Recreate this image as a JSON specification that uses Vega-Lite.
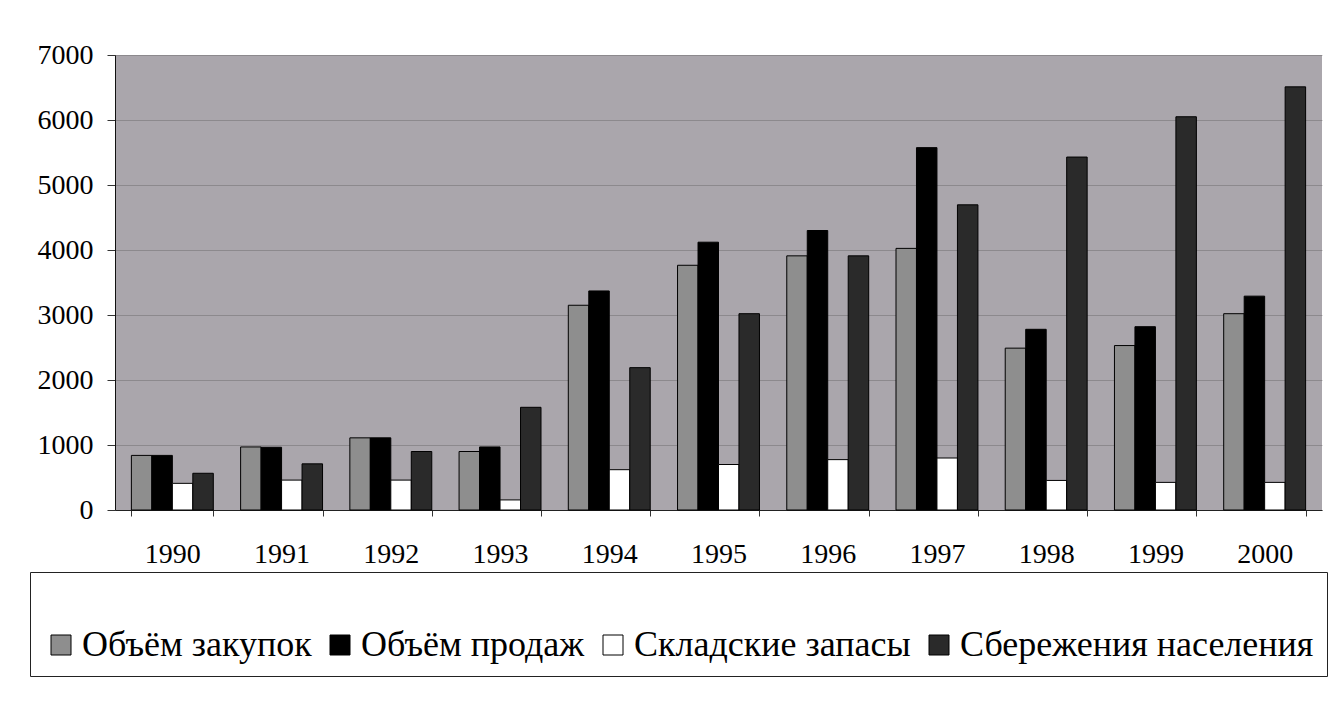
{
  "$schema": "https://vega.github.io/schema/vega-lite/v6.json",
  "autosize": "none",
  "width": 1207,
  "height": 455,
  "padding": {"left": 115, "top": 55, "right": 11, "bottom": 199},
  "background": "white",
  "config": {
    "font": "Liberation Serif",
    "view": {"fill": "#aaa6ac", "stroke": null},
    "axis": {"labelFont": "Liberation Serif", "labelColor": "black", "domainColor": "black", "tickColor": "#333"}
  },
  "data": {
    "values": [
      {"year": "1990", "series": "Объём закупок", "value": 840},
      {"year": "1990", "series": "Объём продаж", "value": 840},
      {"year": "1990", "series": "Складские запасы", "value": 410},
      {"year": "1990", "series": "Сбережения населения", "value": 565},
      {"year": "1991", "series": "Объём закупок", "value": 970},
      {"year": "1991", "series": "Объём продаж", "value": 965},
      {"year": "1991", "series": "Складские запасы", "value": 460},
      {"year": "1991", "series": "Сбережения населения", "value": 710},
      {"year": "1992", "series": "Объём закупок", "value": 1110},
      {"year": "1992", "series": "Объём продаж", "value": 1110},
      {"year": "1992", "series": "Складские запасы", "value": 460},
      {"year": "1992", "series": "Сбережения населения", "value": 900},
      {"year": "1993", "series": "Объём закупок", "value": 900},
      {"year": "1993", "series": "Объём продаж", "value": 970},
      {"year": "1993", "series": "Складские запасы", "value": 155},
      {"year": "1993", "series": "Сбережения населения", "value": 1580},
      {"year": "1994", "series": "Объём закупок", "value": 3150},
      {"year": "1994", "series": "Объём продаж", "value": 3370},
      {"year": "1994", "series": "Складские запасы", "value": 620},
      {"year": "1994", "series": "Сбережения населения", "value": 2190},
      {"year": "1995", "series": "Объём закупок", "value": 3765},
      {"year": "1995", "series": "Объём продаж", "value": 4120},
      {"year": "1995", "series": "Складские запасы", "value": 700},
      {"year": "1995", "series": "Сбережения населения", "value": 3020},
      {"year": "1996", "series": "Объём закупок", "value": 3910},
      {"year": "1996", "series": "Объём продаж", "value": 4300},
      {"year": "1996", "series": "Складские запасы", "value": 775},
      {"year": "1996", "series": "Сбережения населения", "value": 3910},
      {"year": "1997", "series": "Объём закупок", "value": 4025},
      {"year": "1997", "series": "Объём продаж", "value": 5575},
      {"year": "1997", "series": "Складские запасы", "value": 800},
      {"year": "1997", "series": "Сбережения населения", "value": 4695},
      {"year": "1998", "series": "Объём закупок", "value": 2490},
      {"year": "1998", "series": "Объём продаж", "value": 2780},
      {"year": "1998", "series": "Складские запасы", "value": 455},
      {"year": "1998", "series": "Сбережения населения", "value": 5430},
      {"year": "1999", "series": "Объём закупок", "value": 2530},
      {"year": "1999", "series": "Объём продаж", "value": 2820},
      {"year": "1999", "series": "Складские запасы", "value": 425},
      {"year": "1999", "series": "Сбережения населения", "value": 6050},
      {"year": "2000", "series": "Объём закупок", "value": 3020},
      {"year": "2000", "series": "Объём продаж", "value": 3290},
      {"year": "2000", "series": "Складские запасы", "value": 425},
      {"year": "2000", "series": "Сбережения населения", "value": 6510}
    ]
  },
  "mark": {"type": "bar", "stroke": "black", "strokeWidth": 1},
  "encoding": {
    "x": {
      "field": "year", "type": "nominal",
      "scale": {"paddingInner": 0.25, "paddingOuter": 0.15},
      "axis": {"title": null, "labelAngle": 0, "labelFontSize": 28, "labelPadding": 24, "tickSize": 6, "tickBand": "extent", "domainColor": "#222"}
    },
    "xOffset": {
      "field": "series", "type": "nominal",
      "sort": ["Объём закупок", "Объём продаж", "Складские запасы", "Сбережения населения"],
      "scale": {"paddingInner": 0, "paddingOuter": 0}
    },
    "y": {
      "field": "value", "type": "quantitative",
      "scale": {"domain": [0, 7000], "nice": false},
      "axis": {"title": null, "values": [0, 1000, 2000, 3000, 4000, 5000, 6000, 7000], "format": "d", "labelFontSize": 28, "labelPadding": 14, "tickSize": 8, "grid": true, "gridColor": "#5e5e5e", "gridOpacity": 0.4, "domainColor": "#111"}
    },
    "fill": {
      "field": "series", "type": "nominal",
      "sort": ["Объём закупок", "Объём продаж", "Складские запасы", "Сбережения населения"],
      "scale": {"domain": ["Объём закупок", "Объём продаж", "Складские запасы", "Сбережения населения"], "range": ["#8e8e8e", "#000000", "#ffffff", "#2a2a2a"]},
      "legend": {
        "title": " ",
        "titleFontSize": 20,
        "titlePadding": 22,
        "orient": "none",
        "direction": "horizontal",
        "columns": 4,
        "legendX": -85,
        "legendY": 517,
        "padding": 13,
        "strokeColor": "#222",
        "labelFontSize": 36,
        "labelFont": "Liberation Serif",
        "labelColor": "black",
        "labelLimit": 500,
        "labelOffset": 3,
        "columnPadding": 10,
        "symbolType": "square",
        "symbolSize": 400,
        "symbolStrokeColor": "black",
        "symbolStrokeWidth": 1,
        "symbolOpacity": 1
      }
    }
  }
}
